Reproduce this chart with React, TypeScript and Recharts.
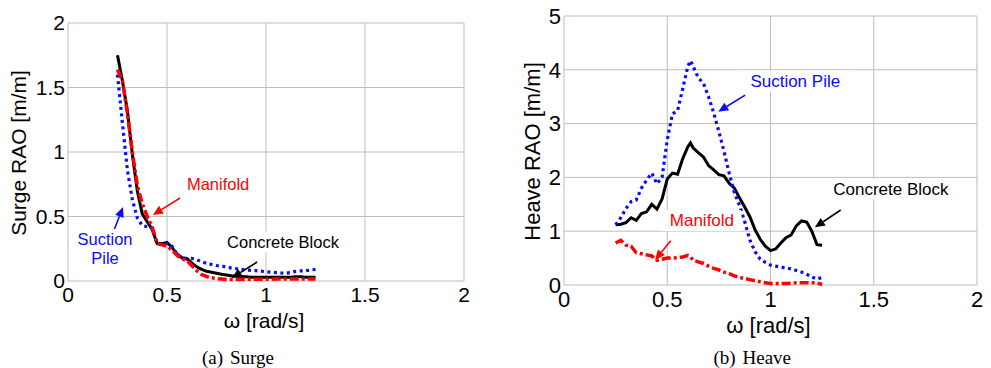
import React from 'react';
import { LineChart, Line, XAxis, YAxis, CartesianGrid, ReferenceLine, ReferenceDot } from 'recharts';

// ---------- data ----------
const surgeOmega = [
  0.25, 0.275, 0.3, 0.325, 0.35, 0.375, 0.4, 0.425, 0.45, 0.475, 0.5, 0.525, 0.55, 0.575, 0.6, 0.625, 0.65,
  0.675, 0.7, 0.725, 0.75, 0.775, 0.8, 0.825, 0.85, 0.875, 0.9, 0.925, 0.95, 0.975, 1.0, 1.025, 1.05, 1.075,
  1.1, 1.125, 1.15, 1.175, 1.2, 1.225, 1.25,
];
const surgeConcrete = [
  1.75, 1.55, 1.32, 0.98, 0.7, 0.52, 0.46, 0.4, 0.29, 0.29, 0.3, 0.26, 0.21, 0.18, 0.175, 0.14, 0.11,
  0.09, 0.075, 0.068, 0.06, 0.052, 0.046, 0.04, 0.036, 0.034, 0.032, 0.03, 0.03, 0.03, 0.029, 0.029, 0.03, 0.03,
  0.03, 0.03, 0.032, 0.032, 0.03, 0.03, 0.03,
];
const surgeSuction = [
  1.6, 1.22, 0.86, 0.63, 0.49, 0.43, 0.42, 0.41, 0.29, 0.28, 0.29, 0.27, 0.21, 0.18, 0.17, 0.175, 0.165,
  0.15, 0.137, 0.128, 0.12, 0.115, 0.11, 0.1, 0.095, 0.09, 0.085, 0.082, 0.08, 0.076, 0.072, 0.068, 0.065, 0.062,
  0.06, 0.066, 0.075, 0.078, 0.08, 0.085, 0.09,
];
const surgeManifold = [
  1.64, 1.55, 1.3, 1.0, 0.74, 0.6, 0.5, 0.42, 0.29, 0.28, 0.27, 0.24, 0.2, 0.17, 0.16, 0.12, 0.08,
  0.05, 0.035, 0.025, 0.018, 0.015, 0.012, 0.012, 0.012, 0.013, 0.013, 0.013, 0.014, 0.014, 0.014, 0.014, 0.015, 0.015,
  0.015, 0.015, 0.016, 0.016, 0.016, 0.016, 0.016,
];

const heaveOmega = [
  0.25, 0.275, 0.3, 0.325, 0.35, 0.375, 0.4, 0.425, 0.45, 0.475, 0.5, 0.525, 0.55, 0.575, 0.6, 0.6125, 0.625,
  0.65, 0.675, 0.7, 0.725, 0.75, 0.775, 0.8, 0.825, 0.85, 0.875, 0.9, 0.925, 0.95, 0.975, 1.0, 1.025, 1.05,
  1.075, 1.1, 1.125, 1.15, 1.175, 1.2, 1.225, 1.25,
];
const heaveConcrete = [
  1.12, 1.13, 1.16, 1.25, 1.2, 1.33, 1.36, 1.5, 1.41, 1.6, 1.97, 2.08, 2.06, 2.35, 2.57, 2.64, 2.55,
  2.46, 2.38, 2.22, 2.14, 2.05, 2.03, 1.89, 1.8, 1.62, 1.45, 1.27, 1.03, 0.85, 0.72, 0.64, 0.67, 0.78,
  0.88, 0.93, 1.1, 1.19, 1.17, 1.0, 0.75, 0.74,
];
const heaveSuction = [
  1.12, 1.25, 1.42, 1.55, 1.58, 1.8, 1.95, 2.08, 1.88, 2.0, 2.7, 3.18, 3.24, 3.65, 4.07, 4.17, 4.07,
  3.85, 3.75, 3.5, 3.2, 2.85, 2.48, 2.08, 1.72, 1.48, 1.18, 0.84, 0.62, 0.48, 0.42, 0.37, 0.35, 0.33,
  0.32, 0.3, 0.27, 0.24, 0.2, 0.15, 0.11, 0.14,
];
const heaveManifold = [
  0.78, 0.83, 0.74, 0.72, 0.6, 0.58, 0.56, 0.54, 0.46, 0.48, 0.5, 0.5, 0.51, 0.52, 0.55, 0.52, 0.46,
  0.43, 0.4, 0.35, 0.31, 0.28, 0.24, 0.21, 0.17, 0.14, 0.12, 0.1, 0.08, 0.06, 0.04, 0.03, 0.03, 0.03,
  0.03, 0.035, 0.04, 0.04, 0.04, 0.04, 0.04, 0.01,
];

const xTicks = [0, 0.5, 1, 1.5, 2];
const surgeYTicks = [0, 0.5, 1, 1.5, 2];
const heaveYTicks = [0, 1, 2, 3, 4, 5];

// ---------- styles ----------
const SANS = '"Liberation Sans", Arial, Helvetica, sans-serif';
const SERIF = '"Liberation Serif", "Times New Roman", serif';
const GRID = '#bdbdbd';
const BLACK = '#000000';
const BLUE = '#0a0aff';
const RED = '#ff0000';

const surgeData = surgeOmega.map((w, i) => ({
  w,
  concrete: surgeConcrete[i],
  suction: surgeSuction[i],
  manifold: surgeManifold[i],
}));
const heaveData = heaveOmega.map((w, i) => ({
  w,
  concrete: heaveConcrete[i],
  suction: heaveSuction[i],
  manifold: heaveManifold[i],
}));

// ---------- custom shapes ----------
const makeArrow = (color: string) => (props: any) => {
  const { x1, y1, x2, y2 } = props;
  if ([x1, y1, x2, y2].some((v) => typeof v !== 'number' || isNaN(v))) return <g />;
  const ang = Math.atan2(y2 - y1, x2 - x1);
  const L = 10;
  const W = 4.5;
  const bx = x2 - L * Math.cos(ang);
  const by = y2 - L * Math.sin(ang);
  const px = -Math.sin(ang) * W;
  const py = Math.cos(ang) * W;
  return (
    <g>
      <line x1={x1} y1={y1} x2={bx} y2={by} stroke={color} strokeWidth={1.6} />
      <polygon points={`${x2},${y2} ${bx + px},${by + py} ${bx - px},${by - py}`} fill={color} />
    </g>
  );
};

const makeLabel = (lines: string[], color: string, size: number) => (props: any) => {
  const { cx, cy } = props;
  if (typeof cx !== 'number' || typeof cy !== 'number') return <g />;
  const lh = size * 1.12;
  const maxLen = Math.max(...lines.map((l) => l.length));
  const w = maxLen * size * 0.52 + 8;
  const h = lines.length * lh + 2;
  const top = cy - ((lines.length - 1) * lh) / 2;
  return (
    <g>
      <rect x={cx - w / 2} y={top - lh / 2 - 1} width={w} height={h} fill="#ffffff" />
      {lines.map((l, i) => (
        <text
          key={i}
          x={cx}
          y={top + i * lh}
          textAnchor="middle"
          dominantBaseline="central"
          fill={color}
          fontFamily={SANS}
          fontSize={size}
        >
          {l}
        </text>
      ))}
    </g>
  );
};

const YTitle = (props: any) => {
  const { viewBox, text, dx, size } = props;
  if (!viewBox) return null;
  const cx = viewBox.x + dx;
  const cy = viewBox.y + viewBox.height / 2 + 1;
  return (
    <text
      x={cx}
      y={cy}
      transform={`rotate(-90, ${cx}, ${cy})`}
      textAnchor="middle"
      dominantBaseline="central"
      fontFamily={SANS}
      fontSize={size}
      fill="#000"
    >
      {text}
    </text>
  );
};

const XTitle = (props: any) => {
  const { viewBox, size, dx, dy, capDy, tag, name, tagDx, nameDx } = props;
  if (!viewBox) return null;
  const c = viewBox.x + viewBox.width / 2;
  return (
    <g>
      <text
        x={c + dx}
        y={viewBox.y + dy}
        textAnchor="middle"
        dominantBaseline="central"
        fontFamily={SANS}
        fontSize={size}
        fill="#000"
      >
        {'\u03C9 [rad/s]'}
      </text>
      <text x={c + tagDx} y={viewBox.y + capDy} dominantBaseline="central" fontFamily={SERIF} fontSize={19} fill="#000">
        {tag}
      </text>
      <text x={c + nameDx} y={viewBox.y + capDy} dominantBaseline="central" fontFamily={SERIF} fontSize={19} fill="#000">
        {name}
      </text>
    </g>
  );
};

const blackArrow = makeArrow(BLACK);
const blueArrow = makeArrow(BLUE);
const redArrow = makeArrow(RED);

function SurgeChart() {
  return (
    <LineChart width={480} height={368} data={surgeData} margin={{ top: 23, right: 16, left: 8, bottom: 47 }}>
      <CartesianGrid stroke={GRID} strokeWidth={1} />
      <XAxis
        dataKey="w"
        type="number"
        domain={[0, 2]}
        ticks={xTicks}
        height={40}
        axisLine={false}
        tickLine={false}
        tickSize={6}
        tickMargin={0}
        tick={{ fill: '#000', fontFamily: SANS, fontSize: 21 }}
        label={<XTitle size={21} dx={-2} dy={39} capDy={76} tag="(a)" name="Surge" tagDx={-64} nameDx={-36} />}
      />
      <YAxis
        type="number"
        domain={[0, 2]}
        ticks={surgeYTicks}
        width={60}
        axisLine={false}
        tickLine={false}
        tickSize={3}
        tickMargin={0}
        tick={{ fill: '#000', fontFamily: SANS, fontSize: 21 }}
        label={<YTitle text="Surge RAO [m/m]" dx={10} size={21} />}
      />
      <Line dataKey="concrete" stroke={BLACK} strokeWidth={3} dot={false} isAnimationActive={false} />
      <Line dataKey="suction" stroke={BLUE} strokeWidth={3.2} strokeDasharray="3 3.5" dot={false} isAnimationActive={false} />
      <Line dataKey="manifold" stroke={RED} strokeWidth={3.5} strokeDasharray="9 3 3 3" dot={false} isAnimationActive={false} />

      <ReferenceLine segment={[{ x: 0.566, y: 0.643 }, { x: 0.429, y: 0.512 }]} shape={redArrow} ifOverflow="visible" />
      <ReferenceLine segment={[{ x: 0.227, y: 0.372 }, { x: 0.278, y: 0.574 }]} shape={blueArrow} ifOverflow="visible" />
      <ReferenceLine segment={[{ x: 0.955, y: 0.147 }, { x: 0.828, y: 0.023 }]} shape={blackArrow} ifOverflow="visible" />

      <ReferenceDot x={0.758} y={0.752} r={1} shape={makeLabel(['Manifold'], RED, 16.5)} ifOverflow="visible" />
      <ReferenceDot x={0.187} y={0.252} r={1} shape={makeLabel(['Suction', 'Pile'], BLUE, 16.5)} ifOverflow="visible" />
      <ReferenceDot x={1.086} y={0.302} r={1} shape={makeLabel(['Concrete Block'], BLACK, 16.5)} ifOverflow="visible" />
    </LineChart>
  );
}

function HeaveChart() {
  return (
    <LineChart width={491} height={368} data={heaveData} margin={{ top: 16, right: 14, left: 4, bottom: 43 }}>
      <CartesianGrid stroke={GRID} strokeWidth={1} />
      <XAxis
        dataKey="w"
        type="number"
        domain={[0, 2]}
        ticks={xTicks}
        height={40}
        axisLine={false}
        tickLine={false}
        tickSize={6}
        tickMargin={0}
        tick={{ fill: '#000', fontFamily: SANS, fontSize: 22 }}
        label={<XTitle size={22} dx={-2} dy={40} capDy={72} tag="(b)" name="Heave" tagDx={-57} nameDx={-28} />}
      />
      <YAxis
        type="number"
        domain={[0, 5]}
        ticks={heaveYTicks}
        width={60}
        axisLine={false}
        tickLine={false}
        tickSize={3}
        tickMargin={0}
        tick={{ fill: '#000', fontFamily: SANS, fontSize: 22 }}
        label={<YTitle text="Heave RAO [m/m]" dx={28} size={22} />}
      />
      <Line dataKey="concrete" stroke={BLACK} strokeWidth={3} dot={false} isAnimationActive={false} />
      <Line dataKey="suction" stroke={BLUE} strokeWidth={3.2} strokeDasharray="3 3.5" dot={false} isAnimationActive={false} />
      <Line dataKey="manifold" stroke={RED} strokeWidth={3.5} strokeDasharray="9 3 3 3" dot={false} isAnimationActive={false} />

      <ReferenceLine segment={[{ x: 0.877, y: 3.53 }, { x: 0.747, y: 3.22 }]} shape={blueArrow} ifOverflow="visible" />
      <ReferenceLine segment={[{ x: 0.517, y: 0.823 }, { x: 0.441, y: 0.465 }]} shape={redArrow} ifOverflow="visible" />
      <ReferenceLine segment={[{ x: 1.34, y: 1.394 }, { x: 1.215, y: 1.072 }]} shape={blackArrow} ifOverflow="visible" />

      <ReferenceDot x={1.12} y={3.79} r={1} shape={makeLabel(['Suction Pile'], BLUE, 17)} ifOverflow="visible" />
      <ReferenceDot x={0.668} y={1.195} r={1} shape={makeLabel(['Manifold'], RED, 17)} ifOverflow="visible" />
      <ReferenceDot x={1.583} y={1.784} r={1} shape={makeLabel(['Concrete Block'], BLACK, 17)} ifOverflow="visible" />
    </LineChart>
  );
}

export default function App() {
  return (
    <div style={{ position: 'absolute', left: 0, top: 0, width: 991, height: 368, background: '#fff' }}>
      <div style={{ position: 'absolute', left: 0, top: 0 }}>
        <SurgeChart />
      </div>
      <div style={{ position: 'absolute', left: 500, top: 0 }}>
        <HeaveChart />
      </div>
    </div>
  );
}
